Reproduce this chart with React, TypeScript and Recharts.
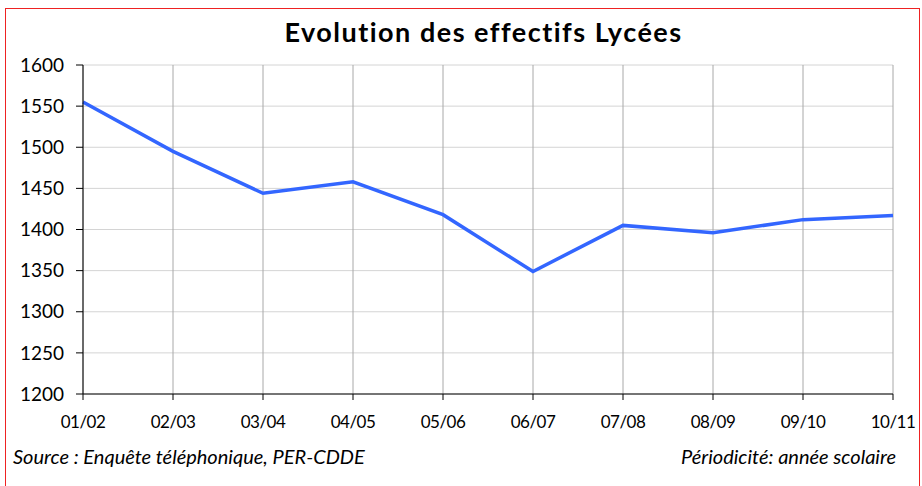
import React from 'react';
import { LineChart, Line, XAxis, YAxis, CartesianGrid } from 'recharts';

const categories = ['01/02', '02/03', '03/04', '04/05', '05/06', '06/07', '07/08', '08/09', '09/10', '10/11'];
const effectifs = [1555, 1495, 1444, 1458, 1418, 1349, 1405, 1396, 1412, 1417];
const yTicks = [1200, 1250, 1300, 1350, 1400, 1450, 1500, 1550, 1600];

const data = categories.map((c, i) => ({ annee: c, effectifs: effectifs[i] }));

const FONT = 'Lato, "Noto Sans", sans-serif';

export default function App() {
  return (
    <div style={{ position: 'absolute', left: 0, top: 0, width: 922, height: 486, background: '#fff', overflow: 'hidden', fontFamily: FONT }}>
      <div style={{ position: 'absolute', left: 5, top: 8, width: 915, height: 520, border: '1.5px solid #ee2222', boxSizing: 'border-box' }} />
      <div style={{ position: 'absolute', left: 0, top: 15.5, width: 967, textAlign: 'center', fontSize: 27, lineHeight: 1.2, fontWeight: 700, letterSpacing: 1.5, color: '#000' }}>
        Evolution des effectifs Lycées
      </div>
      <div style={{ position: 'absolute', left: 0, top: 0 }}>
        <LineChart width={922} height={486} data={data} margin={{ top: 65, right: 29, left: 0, bottom: 52 }}>
          <CartesianGrid horizontal={true} vertical={false} stroke="#d4d4d4" strokeWidth={1} />
          <CartesianGrid horizontal={false} vertical={true} stroke="#a8a8a8" strokeWidth={1} />
          <XAxis
            dataKey="annee"
            height={40}
            tickSize={6}
            tickMargin={16}
            stroke="#000"
            tick={{ fill: '#000', fontSize: 17, fontFamily: FONT, letterSpacing: -0.5 }}
            interval={0}
          />
          <YAxis
            domain={[1200, 1600]}
            ticks={yTicks}
            width={83}
            tickSize={7}
            tickMargin={12}
            stroke="#000"
            tick={{ fill: '#000', fontSize: 19, fontFamily: FONT }}
            interval={0}
          />
          <Line
            type="linear"
            dataKey="effectifs"
            stroke="#3366ff"
            strokeWidth={3.5}
            dot={false}
            activeDot={false}
            isAnimationActive={false}
          />
        </LineChart>
      </div>
      <div style={{ position: 'absolute', left: 13, top: 444, fontSize: 20, lineHeight: 1.2, fontStyle: 'italic', color: '#000' }}>
        Source : Enquête téléphonique, PER-CDDE
      </div>
      <div style={{ position: 'absolute', right: 26, top: 444, fontSize: 20, lineHeight: 1.2, fontStyle: 'italic', color: '#000' }}>
        Périodicité: année scolaire
      </div>
    </div>
  );
}
